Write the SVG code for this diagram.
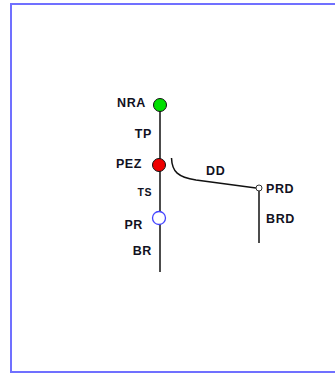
<svg xmlns="http://www.w3.org/2000/svg" width="335" height="375" viewBox="0 0 335 375">
<style>
.lbl{font-family:"Liberation Sans",Arial,sans-serif;font-size:12.5px;font-weight:bold;fill:#111122;letter-spacing:0.6px}
.sm{font-size:10.5px}
.ln{fill:none;stroke:#111;stroke-width:1.5}
</style>
<rect x="0" y="0" width="335" height="375" fill="#fff"/>
<rect x="11" y="4" width="340" height="368" fill="none" stroke="#7070ff" stroke-width="2"/>
<g id="connectors">
<line class="ln" x1="160" y1="105" x2="160" y2="272"/>
<path class="ln" stroke="#333" d="M171.5,158 C172,172 178,177 196,180 L256,188"/>
<line class="ln" stroke="#333" x1="259" y1="190" x2="259" y2="243"/>
</g>
<g id="NRA">
<circle cx="160" cy="105" r="6.5" fill="#00e000" stroke="#111" stroke-width="1"/>
<text class="lbl" x="146" y="107" text-anchor="end">NRA</text>
</g>
<text class="lbl" x="152" y="138" text-anchor="end">TP</text>
<g id="PEZ">
<circle cx="159" cy="165" r="6.5" fill="#ee0000" stroke="#111" stroke-width="1"/>
<text class="lbl" x="142" y="168" text-anchor="end">PEZ</text>
</g>
<text class="lbl sm" x="152" y="196" text-anchor="end">TS</text>
<g id="PR">
<circle cx="159" cy="218" r="6.5" fill="#fff" stroke="#4444ff" stroke-width="1.3"/>
<text class="lbl" x="143" y="229" text-anchor="end">PR</text>
</g>
<text class="lbl" x="152" y="255" text-anchor="end">BR</text>
<text class="lbl" x="206" y="175">DD</text>
<g id="PRD">
<circle cx="259" cy="188" r="3" fill="#fff" stroke="#333" stroke-width="1"/>
<text class="lbl" x="266" y="193">PRD</text>
</g>
<text class="lbl" x="266" y="223">BRD</text>
</svg>
